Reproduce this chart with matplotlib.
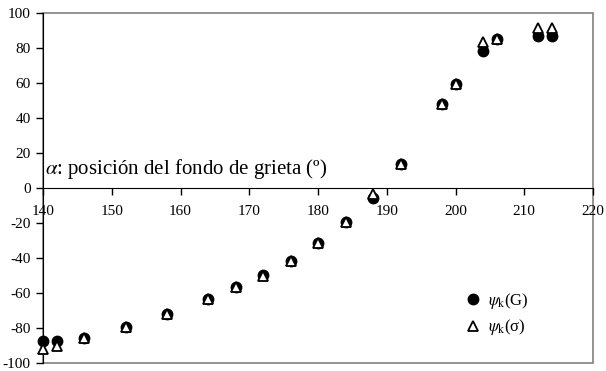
import numpy as np
import matplotlib.pyplot as plt
from matplotlib.patches import Rectangle

plt.rcParams['font.family'] = ['Liberation Serif', 'DejaVu Serif']
plt.rcParams['mathtext.fontset'] = 'stix'
plt.rcParams['axes.unicode_minus'] = False

# posicion del fondo de grieta (grados)
alpha = [140, 142, 146, 152, 158, 164, 168, 172, 176, 180, 184, 188, 192, 198, 200, 204, 206, 212, 214]
# psi_k(G)
psi_G = [-87.5, -87.4, -85.9, -79.2, -72.2, -63.4, -56.8, -49.5, -41.9, -31.6, -19.6, -5.9, 13.7, 47.8, 59.2, 78.5, 85, 86.9, 86.9]
# psi_k(sigma)
psi_S = [-92, -90, -85.9, -79.2, -72.2, -63.2, -56.8, -50, -41.9, -31.6, -19.6, -3.5, 13.7, 47.8, 59.4, 83.5, 85, 91.5, 91.5]

fig = plt.figure(figsize=(6.06, 3.71), dpi=100)
ax = fig.add_axes([43/606, 8/371, 550/606, 350/371])

ax.plot(alpha, psi_G, 'o', color='black', markersize=7.5, label=r'$\psi_{\mathrm{k}}$(G)', clip_on=False, zorder=3)
ax.plot(alpha, psi_S, '^', markerfacecolor='white', markeredgecolor='black', markeredgewidth=1.3,
        markersize=7.5, label=r'$\psi_{\mathrm{k}}$(σ)', clip_on=False, zorder=4)

ax.set_xlim(140, 220)
ax.set_ylim(-100, 100)
ax.set_xticks(np.arange(140, 221, 10))
ax.set_yticks(np.arange(-100, 101, 20))

for s in ['top', 'right']:
    ax.spines[s].set_visible(False)
ax.spines['bottom'].set_position(('data', 0))
ax.spines['bottom'].set_color('black')
ax.spines['left'].set_color('black')
ax.add_patch(Rectangle((0, 0), 1, 1, transform=ax.transAxes, fill=False,
                       edgecolor='#808080', linewidth=1.2, clip_on=False, zorder=0))

ax.tick_params(axis='both', direction='out', length=5, width=1, labelsize=11, colors='black')
ax.tick_params(axis='x', pad=7)
ax.tick_params(axis='y', pad=4)

ax.text(140.3, 11, r'$\alpha$: posición del fondo de grieta (º)', fontsize=15, va='center', ha='left')

ax.legend(loc='center left', bbox_to_anchor=(0.755, 0.14), frameon=False, fontsize=12,
          handlelength=1.0, handletextpad=0.4, labelspacing=0.4, borderaxespad=0)

plt.savefig('out.png', dpi=100)
